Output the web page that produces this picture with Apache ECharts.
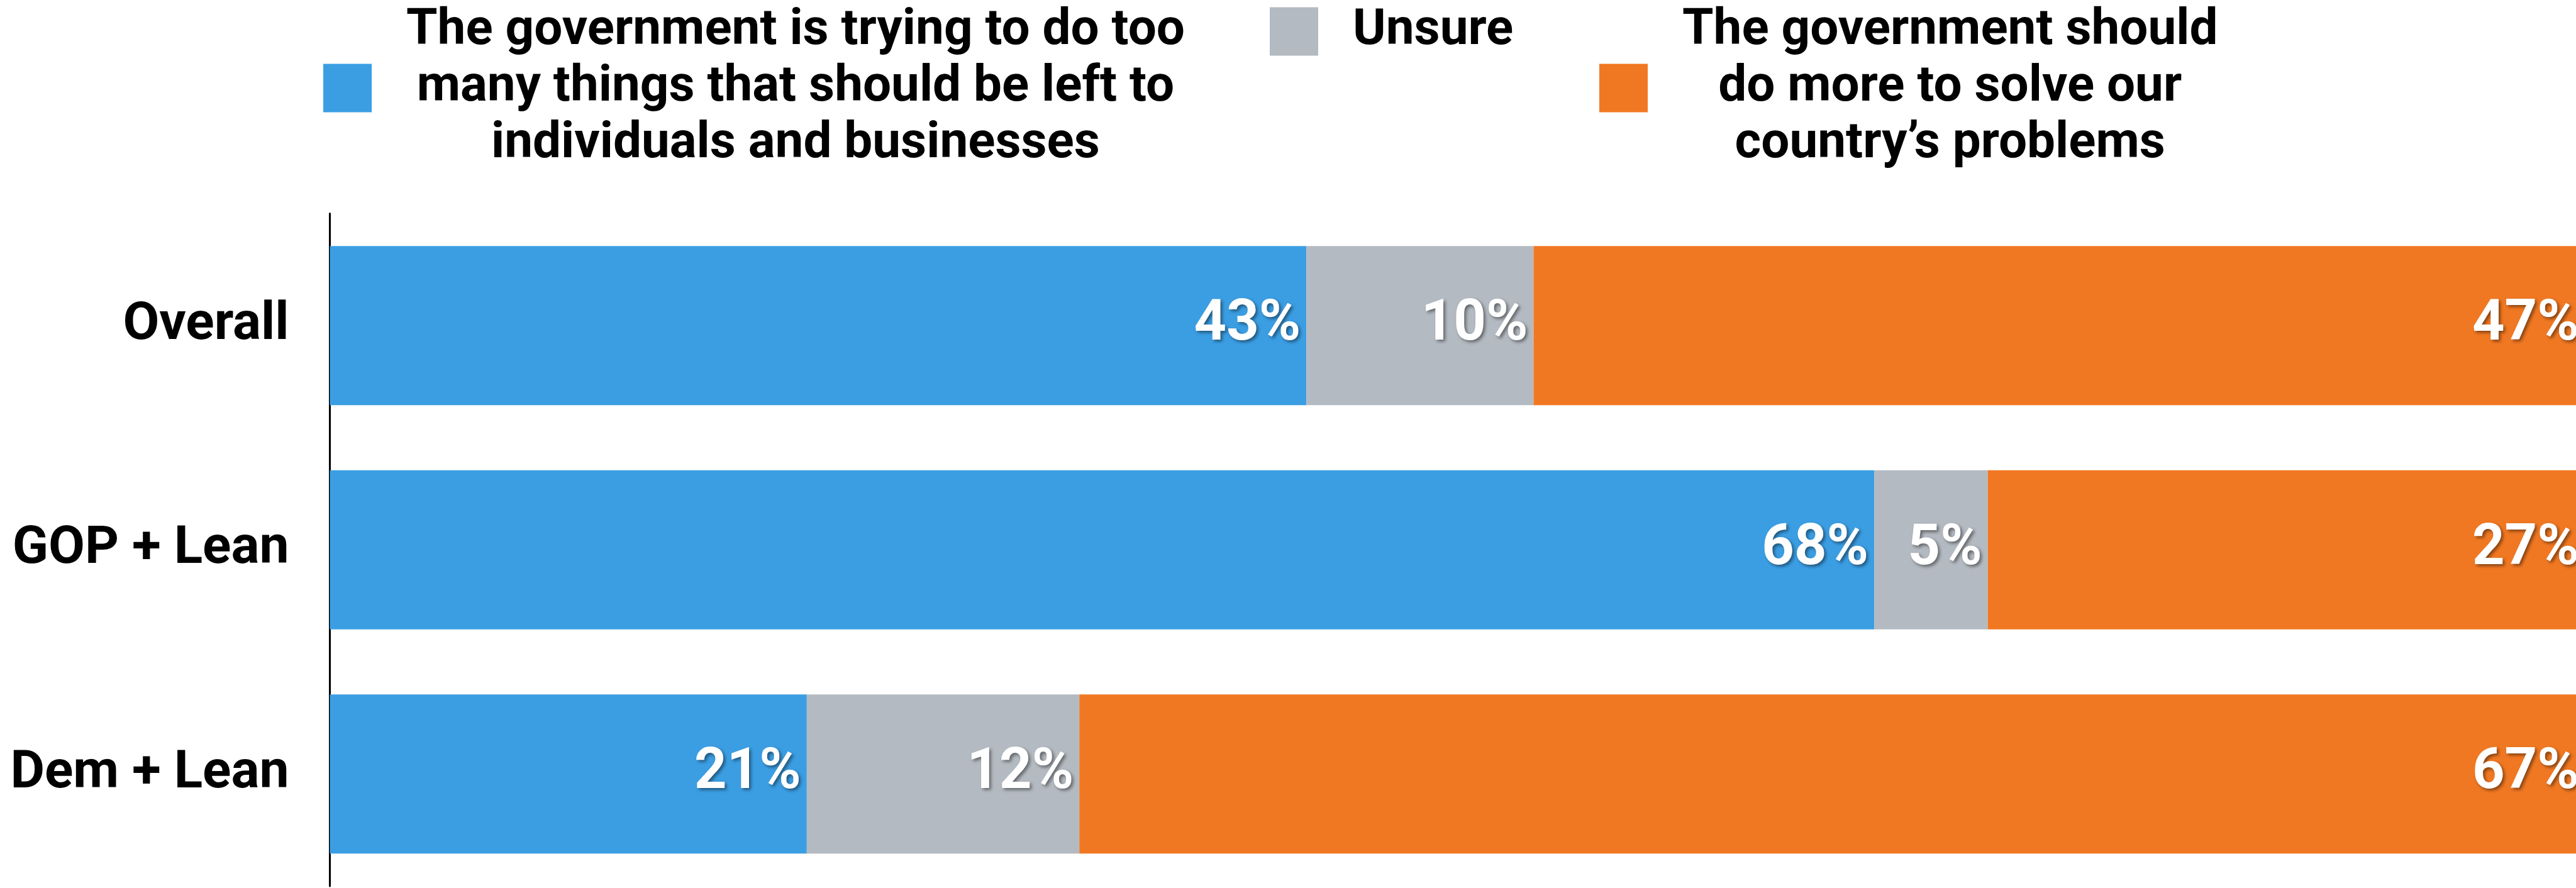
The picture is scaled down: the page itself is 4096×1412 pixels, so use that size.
<!DOCTYPE html>
<html>
<head>
<meta charset="utf-8">
<script src="https://cdn.jsdelivr.net/npm/echarts@6/dist/echarts.min.js"></script>
<style>
html,body{margin:0;padding:0;background:#fff;overflow:hidden;}
#chart{width:4096px;height:1412px;}
</style>
</head>
<body>
<div id="chart"></div>
<script>
const categories = ['Overall', 'GOP + Lean', 'Dem + Lean'];
const seriesNames = [
  'The government is trying to do too many things that should be left to individuals and businesses',
  'Unsure',
  'The government should do more to solve our country\u2019s problems'
];
const legendLines = [
  ['The government is trying to do too', 'many things that should be left to', 'individuals and businesses'],
  ['Unsure'],
  ['The government should', 'do more to solve our', 'country\u2019s problems']
];
const tooMuch = [43, 68, 21];
const unsure = [10, 5, 12];
const doMore = [47, 27, 67];
// visible part of the 0-100% scale (the bars run past the right edge of the picture)
const visibleMax = 98.9;

const colors = ['#3B9EE3', '#B4BAC1', '#F17822'];
const FONT = 'Roboto';

const chart = echarts.init(document.getElementById('chart'), null, {renderer: 'canvas'});

function legendFor(idx, left, top) {
  return {
    show: true,
    data: [seriesNames[idx]],
    left: left,
    top: top,
    padding: 0,
    itemWidth: 77,
    itemHeight: 77,
    itemStyle: {borderWidth: 0},
    icon: 'rect',
    selectedMode: false,
    formatter: function () {
      return legendLines[idx].map(function (l) { return '{a|' + l + '}'; }).join('\n');
    },
    textStyle: {
      fontFamily: FONT,
      fontWeight: 'bold',
      fontSize: 80,
      color: '#000',
      rich: {
        a: {
          fontFamily: FONT,
          fontWeight: 'bold',
          fontSize: 80,
          lineHeight: 90,
          color: '#000',
          align: 'center',
          padding: [0, 0, 0, 50]
        }
      }
    }
  };
}

function labelStyle(dist) {
  return {
    show: true,
    position: 'insideRight',
    distance: dist,
    formatter: '{c}%',
    color: '#fff',
    fontFamily: FONT,
    fontWeight: 'bold',
    fontSize: 90,
    textShadowColor: 'rgba(0,0,0,0.45)',
    textShadowBlur: 5,
    textShadowOffsetX: 3,
    textShadowOffsetY: 3
  };
}

function barSeries(idx, data, dist) {
  return {
    name: seriesNames[idx],
    type: 'bar',
    stack: 'total',
    data: data,
    barWidth: 253,
    clip: false,
    itemStyle: {color: colors[idx]},
    label: labelStyle(dist),
    emphasis: {disabled: true},
    silent: true
  };
}

const option = {
  animation: false,
  backgroundColor: '#fff',
  legend: [
    legendFor(0, 514, 10),
    legendFor(1, 2019, 10),
    legendFor(2, 2543, 10)
  ],
  grid: {left: 524.5, right: 0, top: 339.5, bottom: 3, containLabel: false},
  xAxis: {
    type: 'value',
    min: 0,
    max: visibleMax,
    show: false
  },
  yAxis: {
    type: 'category',
    data: categories,
    inverse: true,
    axisLine: {show: true, lineStyle: {color: '#000', width: 3}},
    axisTick: {show: false},
    axisLabel: {
      margin: 65,
      color: '#000',
      fontFamily: FONT,
      fontWeight: 'bold',
      fontSize: 84
    },
    splitLine: {show: false}
  },
  series: [
    barSeries(0, tooMuch, 9),
    barSeries(1, unsure, 9),
    barSeries(2, doMore, 35)
  ]
};

chart.setOption(option);
</script>
</body>
</html>
